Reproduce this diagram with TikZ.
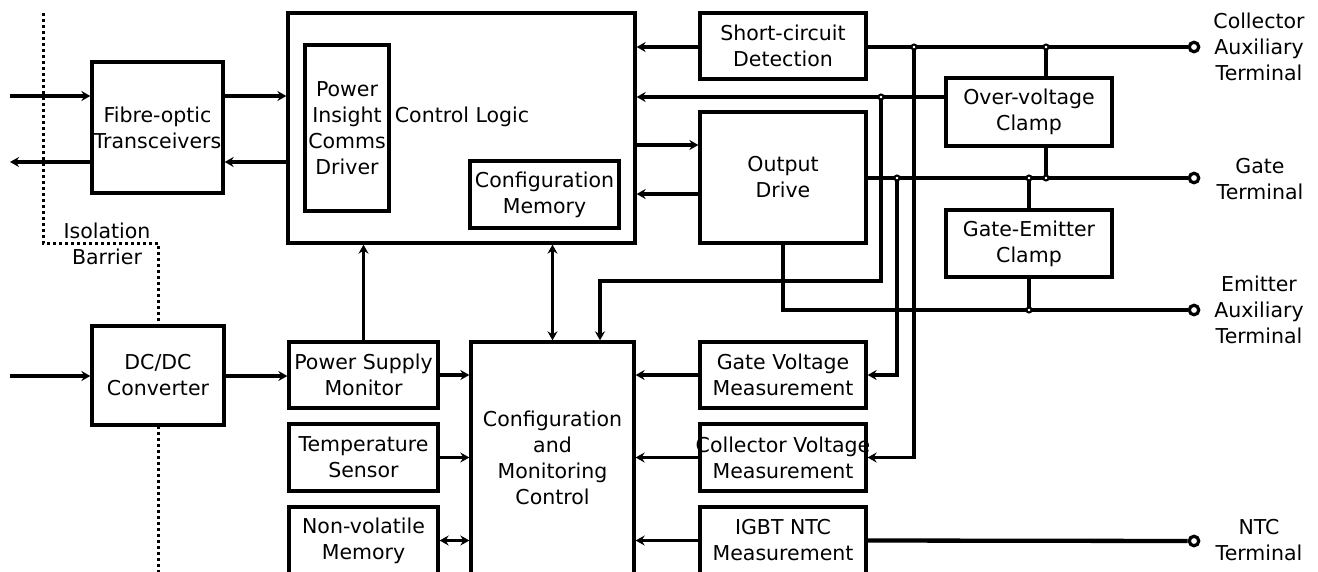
\documentclass[tikz,border=0pt]{standalone}
\usepackage{fontspec}
\setmainfont{DejaVu Sans}
\usetikzlibrary{arrows.meta,calc}
\newcommand\dfont{\fontsize{20.5}{26}\selectfont}
\begin{document}
\begin{tikzpicture}[x=1pt,y=-1pt,
  box/.style={draw, line width=3.3pt, fill=white, inner sep=0pt, align=center, font=\dfont},
  lbl/.style={inner sep=0pt, align=center, font=\dfont},
  wire/.style={line width=3.2pt},
  pwr/.style={line width=4.3pt},
  arr/.style={wire, -{Stealth[length=9pt,width=10pt,inset=3pt]}},
  darr/.style={wire, {Stealth[length=9pt,width=10pt,inset=3pt]}-{Stealth[length=9pt,width=10pt,inset=3pt]}},
  term/.style={circle, draw, line width=3.2pt, fill=white, minimum size=9.5pt, inner sep=0pt},
  dot/.style={circle, draw, line width=2pt, fill=white, minimum size=5pt, inner sep=0pt},
  barrier/.style={line width=3pt, dash pattern=on 3pt off 3pt}
]
\useasboundingbox (0,0) rectangle (1318,571);
\clip (0,0) rectangle (1318,571);
\fill[white] (0,0) rectangle (1318,571);

% isolation barrier
\draw[barrier] (43,13) -- (43,243) -- (158,243) -- (158,575);
\node[lbl] (iso) at (107,244) {Isolation\\Barrier};

% boxes
\node[box, minimum width=131pt, minimum height=131pt] (fibre) at (157.5,127.5) {Fibre-optic\\\makebox[0pt]{Transceivers}};
\node[box, minimum width=347pt, minimum height=230pt] (cl) at (461.5,128) {};
\node[lbl] (cltext) at (462,117) {Control Logic};
\node[box, minimum width=84pt, minimum height=166pt] (pic) at (347,128) {Power\\Insight\\Comms\\Driver};
\node[box, minimum width=149pt, minimum height=67pt] (cm) at (544.5,194.5) {Configuration\\Memory};
\node[box, minimum width=166pt, minimum height=66pt] (scd) at (783,46) {Short-circuit\\Detection};
\node[box, minimum width=166pt, minimum height=131pt] (od) at (783,177.5) {Output\\Drive};
\node[box, minimum width=166pt, minimum height=68pt] (ovc) at (1029,112) {Over-voltage\\Clamp};
\node[box, minimum width=166pt, minimum height=67pt] (gec) at (1029,243.5) {Gate-Emitter\\Clamp};
\node[box, minimum width=132pt, minimum height=99pt] (dcdc) at (158,375.5) {DC/DC\\Converter};
\node[box, minimum width=149pt, minimum height=66pt] (psm) at (363.5,375) {Power Supply\\Monitor};
\node[box, minimum width=149pt, minimum height=67pt] (ts) at (363.5,457.5) {Temperature\\Sensor};
\node[box, minimum width=149pt, minimum height=67pt] (nvm) at (363.5,540.5) {Non-volatile\\Memory};
\node[box, minimum width=163pt, minimum height=232pt] (cmc) at (552.5,458) {Configuration\\and\\Monitoring\\Control};
\node[box, minimum width=166pt, minimum height=66pt] (gvm) at (783,375) {Gate Voltage\\Measurement};
\node[box, minimum width=166pt, minimum height=67pt] (cvm) at (783,457.5) {\makebox[0pt]{Collector Voltage}\\Measurement};
\node[box, minimum width=166pt, minimum height=67pt] (ntc) at (783,540.5) {IGBT NTC\\Measurement};

% terminals
\node[term] (tC) at (1194,47) {};
\node[term] (tG) at (1194,178) {};
\node[term] (tE) at (1194,310) {};
\node[term] (tN) at (1194,541) {};
\node[lbl] (lC) at (1259,47) {Collector\\Auxiliary\\Terminal};
\node[lbl] (lG) at (1260,179) {Gate\\Terminal};
\node[lbl] (lE) at (1259,310) {Emitter\\Auxiliary\\Terminal};
\node[lbl] (lN) at (1259,540) {NTC\\Terminal};

% helper coordinates
\coordinate (inF) at (10,96);
\coordinate (outF) at (10,162);
\coordinate (inD) at (10,376);
\coordinate (yC) at (0,47);
\coordinate (yOV) at (0,97);
\coordinate (yOD1) at (0,145);
\coordinate (yOD2) at (0,194);
\coordinate (yG) at (0,178);
\coordinate (jC1) at (914,47);
\coordinate (jC2) at (1046,47);
\coordinate (jOV) at (881,97);
\coordinate (jG1) at (897,178);
\coordinate (jG2) at (1029,178);
\coordinate (jG3) at (1046,178);
\coordinate (jE) at (1029,310);
\coordinate (cornE) at (783,310);
\coordinate (ovA) at (881,281);
\coordinate (ovB) at (600,281);

% fibre-optic links
\draw[arr] (inF) -- (inF -| fibre.west);
\draw[arr] (fibre.east |- inF) -- (cl.west |- inF);
\draw[arr] (cl.west |- outF) -- (fibre.east |- outF);
\draw[arr] (fibre.west |- outF) -- (outF);

% control logic right side
\draw[arr] (scd.west |- yC) -- (cl.east |- yC);
\draw[arr] (ovc.west |- yOV) -- (cl.east |- yOV);
\draw[arr] (cl.east |- yOD1) -- (od.west |- yOD1);
\draw[arr] (od.west |- yOD2) -- (cl.east |- yOD2);

% power lines
\draw[pwr] (scd.east |- yC) -- (tC);
\draw[pwr] (od.east |- yG) -- (tG);
\draw[pwr] (od.south) -- (cornE) -- (tE);
\draw[pwr] (ntc.east) -- (tN);

% clamps
\draw[wire] (jC2) -- (jC2 |- ovc.north);
\draw[wire] (jC2 |- ovc.south) -- (jG3);
\draw[wire] (jG2) -- (gec.north);
\draw[wire] (gec.south) -- (jE);

% measurement feeds
\draw[arr] (jC1) -- (jC1 |- cvm.east) -- (cvm.east);
\draw[arr] (jG1) -- (jG1 |- gvm.east) -- (gvm.east);
\draw[arr] (jOV) -- (ovA) -- (ovB) -- (ovB |- cmc.north);

% lower left
\draw[arr] (inD) -- (inD -| dcdc.west);
\draw[arr] (dcdc.east |- inD) -- (psm.west |- inD);
\draw[arr] (psm.north) -- (psm.north |- cl.south);
\draw[arr] (psm.east) -- (psm.east -| cmc.west);
\draw[arr] (ts.east) -- (ts.east -| cmc.west);
\draw[darr] (nvm.east) -- (nvm.east -| cmc.west);
\draw[darr] (cl.south -| cmc.north) -- (cmc.north);
\draw[arr] (gvm.west) -- (gvm.west -| cmc.east);
\draw[arr] (cvm.west) -- (cvm.west -| cmc.east);
\draw[arr] (ntc.west) -- (ntc.west -| cmc.east);

% junction dots
\node[dot] (dC1) at (jC1) {};
\node[dot] (dC2) at (jC2) {};
\node[dot] (dOV) at (jOV) {};
\node[dot] (dG1) at (jG1) {};
\node[dot] (dG2) at (jG2) {};
\node[dot] (dG3) at (jG3) {};
\node[dot] (dE) at (jE) {};
\end{tikzpicture}
\end{document}
